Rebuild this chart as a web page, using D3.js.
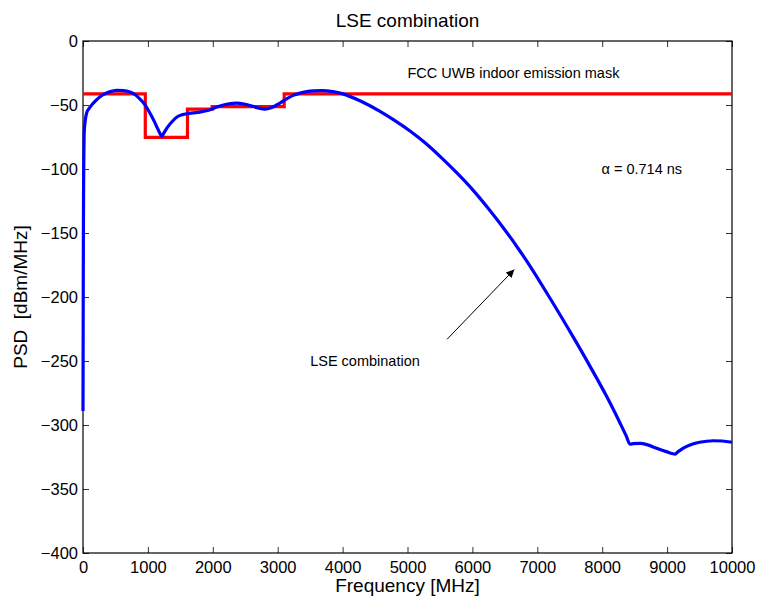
<!DOCTYPE html>
<html lang="en">
<head>
  <meta charset="UTF-8" />
  <title>LSE combination</title>
  <style>
    body { margin: 0; background: #fff; }
    svg { display: block; font-family: "Liberation Sans", Arial, sans-serif; }
  </style>
</head>
<body>
  <svg width="758" height="601"></svg>

  <script src="https://d3js.org/d3.v7.min.js"></script>
  <script>
    // FCC UWB indoor emission mask (step edges, MHz / dBm/MHz)
    const maskFreq  = [0, 960, 1610, 1990, 3100, 10000];
    const maskLevel = [-41.3, -75.3, -53.3, -51.3, -41.3, -41.3];

    // LSE combination PSD
    const psdFreq = [0, 2, 4, 6, 9, 13, 20, 35, 57, 97, 159, 200, 262, 354, 450, 519, 620, 713, 800, 868,
      950, 1022, 1100, 1160, 1200, 1217, 1240, 1300, 1382, 1460, 1536, 1600, 1700, 1800, 1900, 1957,
      2050, 2150, 2250, 2368, 2480, 2600, 2700, 2804, 2900, 3035, 3150, 3250, 3344, 3450, 3550, 3683,
      3850, 4006, 4300, 4576, 4800, 5039, 5270, 5501, 5750, 6009, 6270, 6533, 6700, 6888, 7196, 7550,
      7800, 8074, 8274, 8370, 8428, 8480, 8582, 8700, 8839, 9000, 9080, 9122, 9170, 9250, 9353, 9500,
      9712, 9850, 10000];
    const psdLevel = [-289, -240, -190, -150, -115, -90, -70, -62, -56, -52.5, -48.5, -46.3, -43.5, -40.8, -39.2, -38.6, -38.8, -39.6, -41.8, -44.8,
      -49.5, -55.5, -63, -69.5, -73.5, -74.5, -72.5, -67.5, -62.5, -59, -57.5, -56.8, -56.2, -55.6, -54.5, -53.7,
      -51.8, -50.2, -49, -48.6, -49.2, -50.8, -52.3, -53.2, -52.2, -48.5, -44.8, -42.3, -40.7, -39.6, -39, -38.7,
      -39.5, -41.3, -47.5, -55, -62, -70.3, -79.5, -90.1, -102.5, -116.5, -132.4, -149.8, -161.7, -175.8, -201, -231,
      -253, -278.2, -298.4, -308.5, -314.9, -314.6, -314.3, -315.5, -318.2, -321, -322.3, -322.7, -320.8, -318, -315.6, -313.5,
      -312.3, -312.5, -313.5];

    const xTicks = [0, 1000, 2000, 3000, 4000, 5000, 6000, 7000, 8000, 9000, 10000];
    const yTicks = [0, -50, -100, -150, -200, -250, -300, -350, -400];

    const svg = d3.select('svg');
    const pl = 83, pr = 732, pt = 41, pb = 553;

    const x = d3.scaleLinear().domain([0, 10000]).range([pl, pr]);
    const y = d3.scaleLinear().domain([-400, 0]).range([pb, pt]);
    const fmt = d => d < 0 ? '\u2212' + Math.abs(d) : String(d);

    // axes, ticks pointing inward
    svg.append('g')
      .attr('transform', `translate(0,${pb})`)
      .call(d3.axisBottom(x).tickValues(xTicks).tickFormat(fmt).tickSizeInner(-6).tickSizeOuter(0).tickPadding(8))
      .call(g => g.select('.domain').remove());
    svg.append('g')
      .attr('transform', `translate(0,${pt})`)
      .call(d3.axisTop(x).tickValues(xTicks).tickFormat('').tickSizeInner(-6).tickSizeOuter(0))
      .call(g => g.select('.domain').remove());
    svg.append('g')
      .attr('transform', `translate(${pl},0)`)
      .call(d3.axisLeft(y).tickValues(yTicks).tickFormat(fmt).tickSizeInner(-6).tickSizeOuter(0).tickPadding(5))
      .call(g => g.select('.domain').remove());
    svg.append('g')
      .attr('transform', `translate(${pr},0)`)
      .call(d3.axisRight(y).tickValues(yTicks).tickFormat('').tickSizeInner(-6).tickSizeOuter(0))
      .call(g => g.select('.domain').remove());

    svg.selectAll('.tick line').attr('stroke', '#333');
    svg.selectAll('.tick text').attr('font-size', 16.5).attr('fill', '#000')
      .attr('font-family', '"Liberation Sans", Arial, sans-serif');

    svg.append('rect')
      .attr('x', pl).attr('y', pt)
      .attr('width', pr - pl).attr('height', pb - pt)
      .attr('fill', 'none').attr('stroke', '#000').attr('stroke-width', 1.2);

    // mask
    const maskLine = d3.line().x(d => x(d[0])).y(d => y(d[1])).curve(d3.curveStepAfter);
    svg.append('path')
      .datum(maskFreq.map((f, i) => [f, maskLevel[i]]))
      .attr('d', maskLine)
      .attr('fill', 'none').attr('stroke', '#ff0000').attr('stroke-width', 3.2);

    // PSD
    const psdLine = d3.line().x(d => x(d[0])).y(d => y(d[1])).curve(d3.curveMonotoneX);
    svg.append('path')
      .datum(psdFreq.map((f, i) => [f, psdLevel[i]]))
      .attr('d', psdLine)
      .attr('fill', 'none').attr('stroke', '#0000ff').attr('stroke-width', 3.2)
      .attr('stroke-linejoin', 'round');

    // annotations
    const note = (fx, fy, txt) => svg.append('text')
      .attr('x', x(fx)).attr('y', y(fy))
      .attr('dy', '0.35em').attr('font-size', 14.5).text(txt);
    note(5000, -25, 'FCC UWB indoor emission mask');
    note(7990, -100, '\u03b1 = 0.714 ns');
    note(3500, -250, 'LSE combination');

    svg.append('defs').append('marker')
      .attr('id', 'head').attr('viewBox', '0 0 10 10')
      .attr('refX', 10).attr('refY', 5)
      .attr('markerWidth', 10).attr('markerHeight', 8)
      .attr('markerUnits', 'userSpaceOnUse')
      .attr('orient', 'auto')
      .append('path').attr('d', 'M0,0L10,5L0,10Z').attr('fill', '#000');
    svg.append('line')
      .attr('x1', x(5610)).attr('y1', y(-233))
      .attr('x2', x(6645)).attr('y2', y(-178.5))
      .attr('stroke', '#000').attr('stroke-width', 1)
      .attr('marker-end', 'url(#head)');

    // titles
    svg.append('text')
      .attr('x', (pl + pr) / 2).attr('y', 27)
      .attr('text-anchor', 'middle').attr('font-size', 19).text('LSE combination');
    svg.append('text')
      .attr('x', (pl + pr) / 2).attr('y', 592)
      .attr('text-anchor', 'middle').attr('font-size', 19).text('Frequency [MHz]');
    svg.append('text')
      .attr('transform', `translate(27,${(pt + pb) / 2}) rotate(-90)`)
      .attr('text-anchor', 'middle').attr('font-size', 19)
      .attr('xml:space', 'preserve').style('white-space', 'pre')
      .text('PSD  [dBm/MHz]');
  </script>
</body>
</html>
